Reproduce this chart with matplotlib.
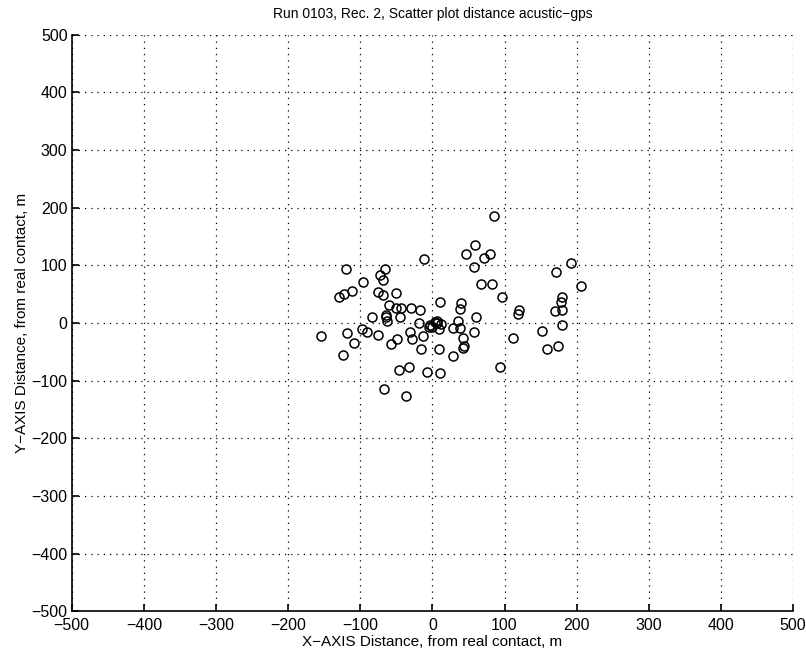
import numpy as np
import matplotlib
matplotlib.use("Agg")
import matplotlib.pyplot as plt

# distance acustic - gps (m)
dx = [86, 59, 47, 80, 72, 57, 172, 67, 82, 97,
      10, 40, 38, 180, 178, 170, 179, 120, 119, 60,
      6, 12, 9, 35, 38, 29, 58, 43, 179, 152,
      112, 44, 42, 159, 174, 9, 29, 93, 10,
      -11, -120, -66, -73, -69, -96, -123, -111, -76, -68,
      -51, -60, -50, -44, -30, -17, -84, -65, -64, -45,
      -63, -18, -5, 7, -119, -97, -91, -76, -31, -28,
      -13, -49, -58, -109, -16, -124, -46, -33, -7, -67,
      -37, -130, -154, -4, 3, -1, 192, 206]
dy = [186, 135, 119, 120, 112, 97, 88, 67, 68, 46,
      36, 35, 25, 45, 36, 21, 22, 23, 15, 11,
      4, -2, -10, 3, -8, -9, -16, -26, -3, -13,
      -26, -40, -43, -45, -39, -45, -57, -77, -87,
      111, 93, 94, 83, 75, 71, 51, 55, 54, 49,
      53, 31, 27, 27, 27, 23, 10, 14, 10, 10,
      3, 0, -7, 1, -17, -10, -16, -20, -15, -28,
      -22, -28, -36, -34, -45, -55, -81, -77, -85, -114,
      -127, 46, -23, -3, 2, -7, 105, 64]

ticks = np.arange(-500, 501, 100)

plt.rcParams['font.family'] = ['Liberation Sans', 'DejaVu Sans']

fig = plt.figure(figsize=(8.06, 6.56), dpi=100)
ax = fig.add_axes([0.089, 0.068, 0.895, 0.879])

ax.plot(dx, dy, 'o', mfc='none', mec='black', ms=6.5, mew=1.1, ls='none')

ax.set_xlim(-500, 500)
ax.set_ylim(-500, 500)
ax.set_xticks(ticks)
ax.set_yticks(ticks)
ax.set_xticklabels([str(t).replace('-', '\u2212') for t in ticks])
ax.set_yticklabels([str(t).replace('-', '\u2212') for t in ticks])
ax.tick_params(direction='in', length=5, width=1.2, labelsize=11.5)
ax.tick_params(axis='x', pad=5)
ax.tick_params(axis='y', pad=3)
ax.grid(True, ls=(0, (1, 4)), color='black', lw=0.9)

for s in ['top', 'right']:
    ax.spines[s].set_visible(False)
for s in ['left', 'bottom']:
    ax.spines[s].set_linewidth(1.2)

ax.set_title('Run 0103, Rec. 2, Scatter plot distance acustic\u2212gps', fontsize=10, pad=12)
ax.set_xlabel('X\u2212AXIS Distance, from real contact, m', fontsize=11, labelpad=1)
ax.set_ylabel('Y\u2212AXIS Distance, from real contact, m', fontsize=11, labelpad=2)

fig.savefig('out.png', dpi=100)
